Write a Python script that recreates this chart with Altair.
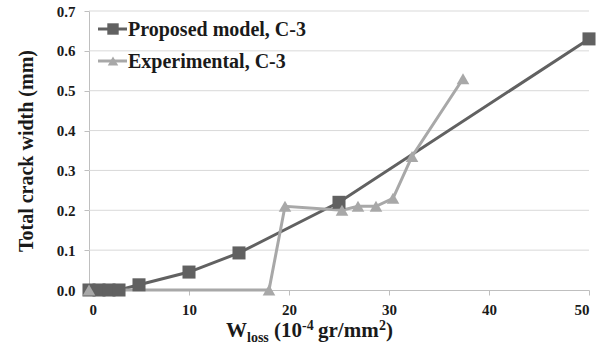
import altair as alt
import pandas as pd

# Proposed model, C-3
prop_x = [0, 1, 2, 3, 5, 10, 15, 25, 50]
prop_y = [0.0, 0.0, 0.0, 0.0, 0.013, 0.045, 0.093, 0.22, 0.63]

# Experimental, C-3
exp_x = [0, 18, 19.6, 25.3, 26.9, 28.7, 30.4, 32.3, 37.4]
exp_y = [0.0, 0.0, 0.21, 0.2, 0.21, 0.21, 0.23, 0.335, 0.53]

series_names = ["Proposed model, C-3", "Experimental, C-3"]
series_colors = ["#616161", "#a8a8a8"]

x_ticks = [0, 10, 20, 30, 40, 50]
y_ticks = [0.0, 0.1, 0.2, 0.3, 0.4, 0.5, 0.6, 0.7]

df = pd.concat([
    pd.DataFrame({"x": prop_x, "y": prop_y, "series": series_names[0], "order": range(len(prop_x))}),
    pd.DataFrame({"x": exp_x, "y": exp_y, "series": series_names[1], "order": range(len(exp_x))}),
])

FONT = "Liberation Serif"
W, H = 500, 279

xscale = alt.Scale(domain=[0, 50], nice=False)
yscale = alt.Scale(domain=[0, 0.7], nice=False)

xaxis = alt.Axis(values=x_ticks, title=None, grid=False, labelFont=FONT,
                 labelFontWeight="bold", labelFontSize=15, labelColor="#1a1a1a",
                 domainColor="#bfbfbf", tickColor="#bfbfbf", tickSize=5,
                 labelPadding=7, labelOverlap=False)
yaxis = alt.Axis(values=y_ticks, format=".1f", title="Total  crack width (mm)",
                 titleFont=FONT, titleFontWeight="bold", titleFontSize=20,
                 titleColor="#1a1a1a", titlePadding=20, grid=False,
                 labelFont=FONT, labelFontWeight="bold", labelFontSize=15,
                 labelColor="#1a1a1a", domainColor="#bfbfbf",
                 tickColor="#bfbfbf", tickSize=5, labelPadding=9, labelOverlap=False)

xs = alt.X("x:Q", scale=xscale, axis=xaxis)
ys = alt.Y("y:Q", scale=yscale, axis=yaxis)
color = alt.Color("series:N", scale=alt.Scale(domain=series_names, range=series_colors), legend=None)

# gridlines from the tick list
grid = alt.Chart(pd.DataFrame({"y": y_ticks[1:]})).mark_rule(color="#d9d9d9", strokeWidth=1).encode(
    y=alt.Y("y:Q", scale=yscale, axis=yaxis))

base = alt.Chart(df)
lines = base.mark_line(strokeWidth=3).encode(x=xs, y=ys, color=color, detail="series:N", order="order:Q")
squares = base.transform_filter(alt.datum.series == series_names[0]).mark_point(
    shape="square", filled=True, size=170, opacity=1).encode(x=xs, y=ys, color=color)
tris = base.transform_filter(alt.datum.series == series_names[1]).mark_point(
    shape="triangle-up", filled=True, size=160, opacity=1).encode(x=xs, y=ys, color=color)

# Legend (manual, inside plot, top-left)
leg = alt.Chart(pd.DataFrame({"name": series_names}))
legend_layers = []
for i, (nm, col, shp, sz) in enumerate(zip(series_names, series_colors,
                                            ["square", "triangle-up"], [130, 110])):
    yy = 18 + 32 * i
    sub = leg.transform_filter(alt.datum.name == nm)
    legend_layers += [
        sub.mark_rule(color=col, strokeWidth=3).encode(x=alt.value(9), x2=alt.value(38), y=alt.value(yy)),
        sub.mark_point(shape=shp, filled=True, size=sz, opacity=1, color=col).encode(
            x=alt.value(24), y=alt.value(yy)),
        sub.mark_text(align="left", baseline="middle", font=FONT, fontWeight="bold",
                      fontSize=20, color="#1a1a1a").encode(
            x=alt.value(39), y=alt.value(yy + 1), text="name:N"),
    ]

# X-axis title with subscript/superscript pieces
title_parts = [
    ("W", 137, 326, 21),
    ("loss", 158, 331, 14),
    ("(10", 185, 326, 21),
    ("-4", 213, 319, 14),
    ("gr/mm", 229, 326, 21),
    ("2", 290, 319, 14),
    (")", 297, 326, 21),
]
tp = pd.DataFrame({"t": [p[0] for p in title_parts]})
title_layers = []
for t, px, py, fs in title_parts:
    title_layers.append(
        alt.Chart(tp).transform_filter(alt.datum.t == t).mark_text(
            align="left", baseline="alphabetic", font=FONT, fontWeight="bold",
            fontSize=fs, color="#1a1a1a").encode(x=alt.value(px), y=alt.value(py), text="t:N")
    )

chart = alt.layer(grid, lines, squares, tris, *legend_layers, *title_layers).properties(
    width=W, height=H, autosize=alt.AutoSizeParams(type="none"),
    padding={"left": 89, "top": 11, "right": 17, "bottom": 59},
    background="white",
).configure_view(stroke=None)

chart.save("out.html", embed_options={"renderer": "svg", "actions": False})
